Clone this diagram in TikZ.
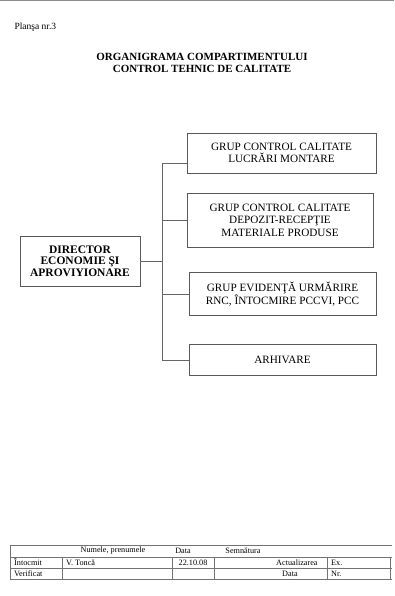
\documentclass[tikz,border=0pt]{standalone}
\usepackage{fontspec}
\setmainfont{Liberation Serif}
\usetikzlibrary{calc}
\begin{document}
\begin{tikzpicture}[x=1pt,y=-1pt,
  box/.style={draw=black!65,line width=0.8pt,align=center,inner sep=1pt,font=\fontsize{11.2}{12.5}\selectfont},
  dirbox/.style={box,font=\fontsize{11.5}{11.5}\selectfont\bfseries},
  link/.style={draw=black!60,line width=0.7pt},
  rule/.style={draw=black!55,line width=0.6pt},
  cell/.style={font=\fontsize{8.2}{9}\selectfont,inner sep=0pt}]
\useasboundingbox (0,0) rectangle (394,596);
\draw[black!45,line width=1.2pt] (0,0.8) -- (394,0.8);
\node[font=\fontsize{9.5}{10}\selectfont,anchor=west] (plansa) at (11,27) {Planşa nr.3};
\node[font=\fontsize{11}{12}\selectfont\bfseries,align=center] (title) at (202,63) {ORGANIGRAMA COMPARTIMENTULUI\\CONTROL TEHNIC DE CALITATE};
% boxes
\node[box,minimum width=189pt,minimum height=40pt] (b1) at (281.5,153) {GRUP CONTROL CALITATE\\LUCRĂRI MONTARE};
\node[box,minimum width=186pt,minimum height=54pt] (b2) at (280,220) {GRUP CONTROL CALITATE\\DEPOZIT-RECEPŢIE\\MATERIALE PRODUSE};
\node[box,minimum width=187pt,minimum height=43pt] (b3) at (282.5,294) {GRUP EVIDENŢĂ URMĂRIRE\\RNC, ÎNTOCMIRE PCCVI, PCC};
\node[box,minimum width=187pt,minimum height=31pt] (b4) at (282.5,360) {ARHIVARE};
\node[dirbox,minimum width=120pt,minimum height=50pt] (dir) at (80,261) {DIRECTOR\\ECONOMIE ŞI\\APROVIYIONARE};
% connectors
\coordinate (t) at (162,0);
\coordinate (c1) at ($(b1.south west)!0.25!(b1.north west)$);
\draw[link] (c1) -- (c1 -| t) -- (b4.west -| t) -- (b4.west);
\draw[link] (b2.west -| t) -- (b2.west);
\draw[link] (b3.west -| t) -- (b3.west);
\draw[link] (dir.east) -- (dir.east -| t);
% footer table
\draw[rule] (10,545) -- (392,545);
\draw[rule] (10,557) -- (392,557);
\draw[rule] (10,568) -- (392,568);
\draw[rule] (10,579) -- (392,579);
\draw[rule] (10,545) -- (10,579);
\foreach \xx in {62,172,214,327,390} {\draw[rule] (\xx,557) -- (\xx,579);}
\node[cell] (h1) at (113,551) {Numele, prenumele};
\node[cell] (h2) at (183,551) {Data};
\node[cell] (h3) at (243,551) {Semnătura};
\node[cell,anchor=west] (r1a) at (14,562.5) {Întocmit};
\node[cell,anchor=west] (r1b) at (66,562.5) {V. Toncă};
\node[cell] (r1c) at (193,562.5) {22.10.08};
\node[cell,anchor=west] (r1d) at (276,562.5) {Actualizarea};
\node[cell,anchor=west] (r1e) at (331,562.5) {Ex.};
\node[cell,anchor=west] (r2a) at (14,573.5) {Verificat};
\node[cell,anchor=west] (r2d) at (282,573.5) {Data};
\node[cell,anchor=west] (r2e) at (331,573.5) {Nr.};
\end{tikzpicture}
\end{document}
